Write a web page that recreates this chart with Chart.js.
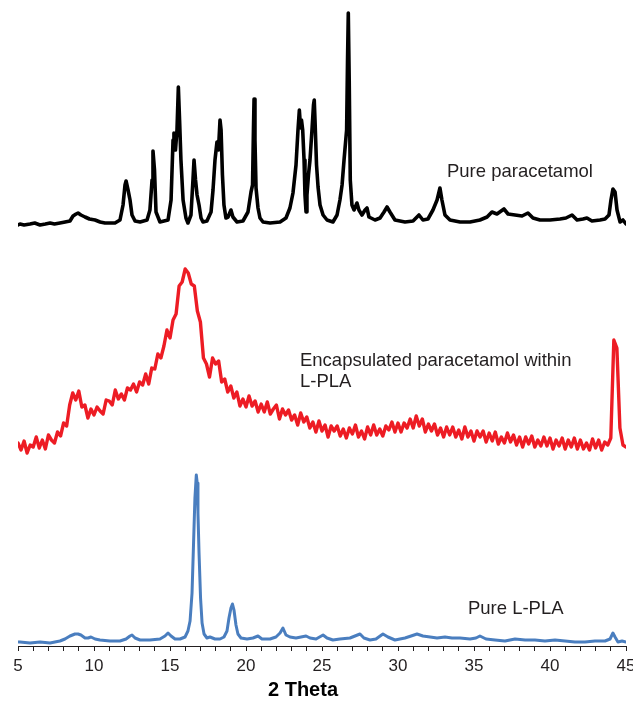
<!DOCTYPE html>
<html>
<head>
<meta charset="utf-8">
<script src="https://cdn.jsdelivr.net/npm/chart.js@4/dist/chart.umd.min.js"></script>
<style>
  html, body { margin: 0; padding: 0; background: #ffffff; }
  #wrap { width: 633px; height: 704px; }
</style>
</head>
<body>
<div id="wrap"><canvas id="c" width="633" height="704"></canvas></div>
<script>
// ---------- DATA (2θ in degrees, intensity in arbitrary units) ----------
const tickLabels = [5, 10, 15, 20, 25, 30, 35, 40, 45];
const seriesNames = ['Pure paracetamol', 'Encapsulated paracetamol within L-PLA', 'Pure L-PLA'];
// vertical stacking offsets of the three patterns (a.u.)
const seriesOffsets = [422, 198, 3];

// Pure paracetamol
const paraAngle = [
  5.0,5.13,5.4,5.79,6.1,6.45,6.8,7.11,7.4,7.76,
  8.1,8.42,8.62,8.82,8.95,9.14,9.41,9.7,10.07,10.4,
  10.72,11.05,11.38,11.71,11.91,12.04,12.11,12.24,12.37,12.5,
  12.7,13.03,13.49,13.68,13.82,13.88,13.98,14.08,14.34,14.87,
  15.07,15.2,15.26,15.36,15.46,15.55,15.63,15.72,15.86,16.05,
  16.18,16.38,16.51,16.58,16.68,16.78,16.91,17.04,17.17,17.43,
  17.7,17.83,17.96,18.09,18.19,18.29,18.36,18.45,18.55,18.68,
  18.82,19.01,19.14,19.41,19.8,20.13,20.33,20.43,20.49,20.53,
  20.59,20.66,20.79,20.92,21.12,21.58,22.24,22.63,22.89,23.09,
  23.29,23.42,23.51,23.59,23.65,23.73,23.82,23.88,23.95,24.01,
  24.11,24.21,24.34,24.44,24.49,24.54,24.64,24.74,24.87,25.07,
  25.33,25.72,25.99,26.18,26.32,26.45,26.62,26.68,26.73,26.79,
  26.86,26.97,27.11,27.3,27.43,27.63,27.83,27.96,28.09,28.49,
  28.82,29.08,29.28,29.47,29.8,30.46,30.99,31.38,31.64,31.97,
  32.3,32.57,32.76,32.89,33.09,33.42,34.08,34.74,35.39,35.86,
  36.18,36.51,36.97,37.24,37.7,38.16,38.55,38.88,39.34,40.0,
  40.66,41.05,41.45,41.78,42.17,42.43,42.76,43.29,43.62,43.88,
  44.01,44.14,44.28,44.41,44.61,44.8,45.0
];
const paraIntensity = [
  -1,0,-1,0,1,-1,0,1,0,1,
  2,3,8,10,11,9,7,5,4,2,
  1,1,1,4,19,39,43,34,24,9,
  3,2,4,14,44,73,54,12,2,4,
  24,84,91,74,94,137,104,64,24,6,
  1,9,44,64,44,29,19,6,2,3,
  12,34,64,82,74,104,94,49,19,6,
  7,14,7,2,3,12,32,39,94,125,
  84,36,16,6,2,1,2,6,16,31,
  59,94,114,96,104,94,64,29,12,29,
  49,64,94,119,124,104,59,37,19,9,
  4,2,9,24,39,64,94,164,211,144,
  44,19,14,21,14,9,14,16,7,4,
  6,12,17,12,4,2,3,9,4,5,
  14,24,36,24,9,4,2,2,4,7,
  12,10,15,10,9,8,11,6,4,4,
  5,6,9,4,5,6,3,4,5,9,
  24,35,32,14,2,4,0
];

// Encapsulated paracetamol within L-PLA (scan from 5° in 0.2° steps)
const encStart = 5.0;
const encStep = 0.2;
const encIntensity = [
  5,-2,7,-5,3,        1,11,0,8,-1,        13,8,5,16,12,       25,22,43,55,48,
  57,41,43,30,39,     33,41,37,34,48,     47,43,58,49,54,     48,60,58,64,56,
  66,63,74,64,80,     79,94,90,102,118,   110,128,134,162,166, 179,175,164,162,137,
  126,90,84,71,90,    84,87,66,69,56,     62,50,56,42,49,     41,52,42,47,36,
  44,36,46,34,39,     43,29,39,33,38,     28,33,23,35,26,     31,20,26,16,27,
  17,23,11,22,17,     22,12,19,10,20,     14,23,11,17,9,      21,13,23,13,19,
  12,22,18,26,16,     25,16,25,20,29,     20,32,22,29,16,     24,17,24,13,20,
  11,21,13,21,11,     18,9,21,11,17,      7,17,11,17,6,       15,7,16,4,11,
  5,15,6,13,3,        11,1,11,4,12,       1,8,2,11,2,         10,-1,8,2,10,
  -1,8,1,10,-1,       8,-1,5,-2,9,        0,8,-2,6,3,         10,108,100,20,3,
  1
];

// Pure L-PLA
const plaAngle = [
  5.0,5.13,5.79,6.45,7.11,7.43,7.76,8.09,8.42,8.75,
  8.95,9.14,9.41,9.61,9.8,10.07,10.39,11.05,11.71,12.11,
  12.37,12.5,12.7,13.03,13.68,14.34,14.67,14.87,15.07,15.33,
  15.66,15.99,16.18,16.32,16.45,16.55,16.64,16.73,16.79,16.84,
  16.91,17.01,17.11,17.24,17.43,17.63,17.96,18.29,18.55,18.75,
  18.88,19.01,19.11,19.21,19.34,19.47,19.67,20.07,20.46,20.79,
  21.05,21.58,21.97,22.24,22.43,22.63,22.89,23.29,23.62,23.95,
  24.21,24.61,25.07,25.33,25.72,26.18,26.84,27.17,27.5,27.76,
  28.16,28.55,29.01,29.34,29.8,30.46,30.86,31.25,31.64,32.11,
  32.57,33.09,33.55,34.08,34.74,35.13,35.39,35.79,36.38,37.04,
  37.7,38.36,39.01,39.67,40.33,40.99,41.64,42.3,42.96,43.62,
  43.95,44.14,44.28,44.47,44.74,45.0
];
const plaIntensity = [
  1,1,0,1,0,1,2,4,7,9,
  9,8,5,5,6,4,3,2,2,4,
  7,8,5,3,3,4,7,10,7,4,
  4,6,12,22,50,100,145,168,160,130,
  90,45,20,9,5,6,4,4,6,12,
  25,35,39,33,18,9,5,4,5,7,
  4,4,6,10,15,8,6,5,6,7,
  5,4,8,5,3,4,5,7,9,5,
  3,4,9,6,3,5,7,9,7,6,
  5,6,5,5,4,5,7,4,3,2,
  4,3,3,2,3,2,1,1,2,2,
  4,10,6,1,2,1
];

// ---------- build library data ----------
const paraPoints = paraAngle.map((a, i) => ({ x: a, y: paraIntensity[i] + seriesOffsets[0] }));
const encPoints = encIntensity.map((v, i) => ({ x: +(encStart + i * encStep).toFixed(2), y: v + seriesOffsets[1] }));
const plaPoints = plaAngle.map((a, i) => ({ x: a, y: plaIntensity[i] + seriesOffsets[2] }));

// label anchors in data units (2θ, a.u.)
const labelAnchors = [
  { lines: ['Pure paracetamol'], x: 33.22, y: 469.5 },
  { lines: ['Encapsulated paracetamol within', 'L-PLA'], x: 23.55, y: 280 },
  { lines: ['Pure L-PLA'], x: 34.6, y: 32 }
];

const TEXT = '#231f20';
const FONT = '"Liberation Sans", Arial, Helvetica, sans-serif';

const labelPlugin = {
  id: 'seriesLabels',
  afterDatasetsDraw(chart) {
    const { ctx, scales } = chart;
    ctx.save();
    ctx.font = '18.5px ' + FONT;
    ctx.fillStyle = TEXT;
    ctx.textAlign = 'left';
    ctx.textBaseline = 'alphabetic';
    labelAnchors.forEach(l => {
      const px = scales.x.getPixelForValue(l.x);
      const py = scales.y.getPixelForValue(l.y);
      l.lines.forEach((t, k) => ctx.fillText(t, px, py + k * 20.7));
    });
    ctx.restore();
  }
};

// shift axis title horizontally to where it sits in the figure
const titleShiftPlugin = {
  id: 'titleShift',
  afterLayout(chart) {
    const s = chart.scales.x;
    if (!s || s._shiftPatched) return;
    const orig = s.drawTitle.bind(s);
    s.drawTitle = function () {
      const c = this.ctx;
      c.save();
      c.translate(-19, 0);
      orig();
      c.restore();
    };
    s._shiftPatched = true;
  }
};

const lineDefaults = { pointRadius: 0, pointHoverRadius: 0, tension: 0, fill: false, borderJoinStyle: 'round', borderCapStyle: 'round' };

new Chart(document.getElementById('c'), {
  type: 'line',
  data: {
    datasets: [
      Object.assign({ label: seriesNames[0], data: paraPoints, borderColor: '#000000', borderWidth: 3.6 }, lineDefaults),
      Object.assign({ label: seriesNames[1], data: encPoints, borderColor: '#ed1c24', borderWidth: 3.4 }, lineDefaults),
      Object.assign({ label: seriesNames[2], data: plaPoints, borderColor: '#4a7ebf', borderWidth: 3 }, lineDefaults)
    ]
  },
  options: {
    responsive: false,
    animation: false,
    events: [],
    layout: { padding: { left: 18, right: 7, top: 0, bottom: 0 } },
    plugins: { legend: { display: false }, tooltip: { enabled: false } },
    scales: {
      x: {
        type: 'linear',
        min: 5,
        max: 45,
        ticks: {
          stepSize: 1,
          autoSkip: false,
          maxRotation: 0,
          minRotation: 0,
          padding: 5,
          color: TEXT,
          font: { family: FONT, size: 17 },
          callback: (v) => tickLabels.includes(v) ? String(v) : ''
        },
        grid: { display: true, drawOnChartArea: false, drawTicks: true, tickLength: 5, color: TEXT, tickWidth: 1 },
        border: { display: true, color: TEXT, width: 1 },
        title: {
          display: true,
          text: '2 Theta',
          color: '#000000',
          font: { family: FONT, size: 20, weight: 'bold' },
          padding: { top: 0, bottom: 2 }
        },
        afterFit: (s) => { s.height = 58; s.paddingLeft = 0; s.paddingRight = 0; }
      },
      y: { display: false, min: 0, max: 646 }
    }
  },
  plugins: [labelPlugin, titleShiftPlugin]
});
</script>
</body>
</html>
